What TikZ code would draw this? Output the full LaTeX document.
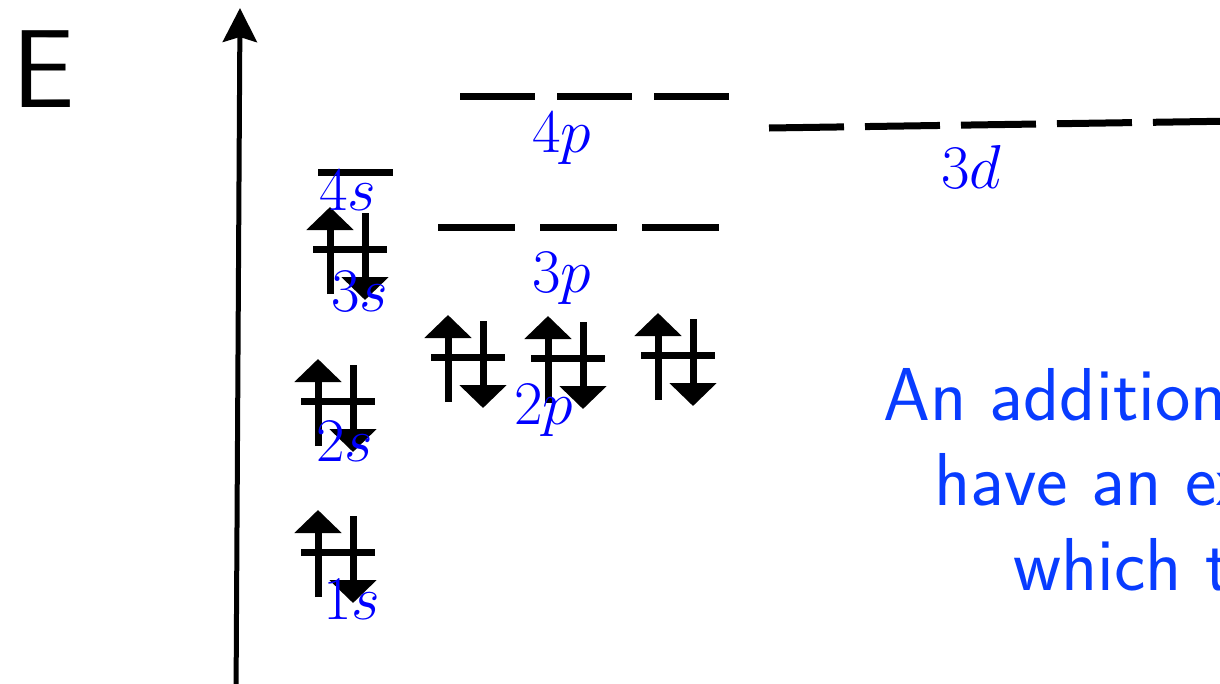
\RequirePackage{fix-cm}
\documentclass[tikz,border=0pt]{standalone}
\usepackage{fontspec}
\usetikzlibrary{arrows.meta}
\definecolor{noteblue}{RGB}{8,60,255}

\tikzset{
  level/.style={line width=7pt},
  spin/.style={line width=7pt,-{Triangle[width=46pt,length=23pt]}},
  orblabel/.style={text=blue,anchor=base,inner sep=0pt,font=\fontsize{62}{62}\selectfont},
  notetext/.style={text=noteblue,anchor=base west,inner sep=0pt,font=\fontsize{75}{75}\selectfont\sffamily}
}

\begin{document}
\begin{tikzpicture}[x=1pt,y=-1pt]
\useasboundingbox (0,0) rectangle (1220,683);
\clip (0,0) rectangle (1220,683);

% energy axis
\draw[line width=5pt,-{Stealth[width=34pt,length=34pt,inset=5pt]}] (236,700) -- (240,8);
\node[anchor=base west,inner sep=0pt,font=\fontsize{111}{111}\selectfont\sffamily] (E) at (12,107) {E};

% empty levels
\draw[level] (318,172) -- (393,172);
\draw[level,dash pattern=on 75pt off 22pt] (460,96) -- (729,96);
\draw[level,dash pattern=on 77pt off 25pt] (438,227) -- (720,227);
\draw[level,dash pattern=on 75pt off 21pt] (769,128) -- (1240,121);

% electron pairs: up arrow x, bar y
\foreach \ex/\ey in {330/249, 318/401, 318/552, 448/357, 548/358, 658/355}{
  \draw[spin] (\ex,\ey+45) -- (\ex,\ey-42);
  \draw[spin] (\ex+35,\ey-36) -- (\ex+35,\ey+51);
  \draw[level] (\ex-17,\ey) -- (\ex+57,\ey);
}

% orbital labels
\node[orblabel] (l4s) at (348,210) {$4s$};
\node[orblabel] (l3s) at (360,311) {$3s$};
\node[orblabel] (l2s) at (345,461) {$2s$};
\node[orblabel] (l1s) at (352,619) {$1s$};
\node[orblabel] (l2p) at (544,424) {$2p$};
\node[orblabel] (l3p) at (562,292) {$3p$};
\node[orblabel] (l4p) at (562,152) {$4p$};
\node[orblabel] (l3d) at (971,188) {$3d$};

% note
\node[notetext] (n1) at (883,420) {An addition};
\node[notetext] (n2) at (934,505) {have an ex};
\node[notetext] (n3) at (1013,590) {which t};

\end{tikzpicture}
\end{document}
